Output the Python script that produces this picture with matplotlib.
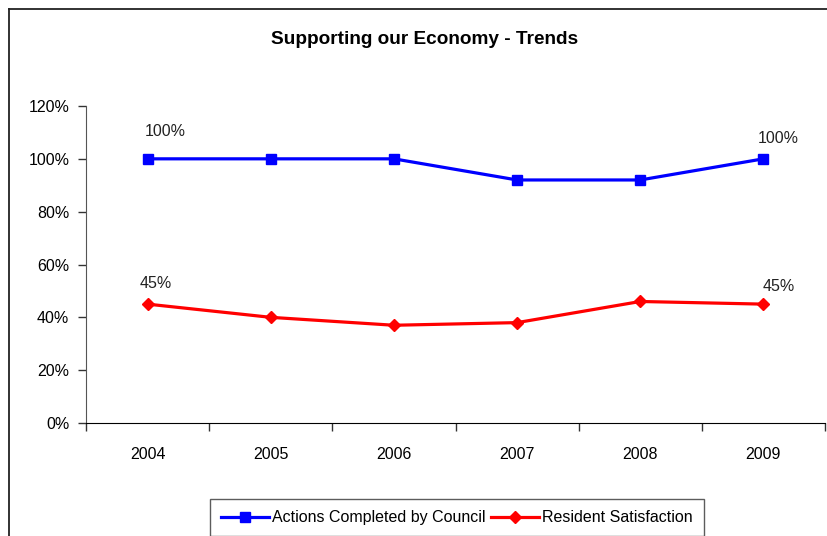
import matplotlib
matplotlib.use("Agg")
import matplotlib.pyplot as plt
from matplotlib.lines import Line2D
from matplotlib.ticker import FixedLocator, NullFormatter

plt.rcParams['font.family'] = ['Liberation Sans', 'DejaVu Sans']

years = ['2004', '2005', '2006', '2007', '2008', '2009']
actions = [100, 100, 100, 92, 92, 100]
satisfaction = [45, 40, 37, 38, 46, 45]
yticks = [0, 20, 40, 60, 80, 100, 120]
title = 'Supporting our Economy - Trends'
series_names = ['Actions Completed by Council', 'Resident Satisfaction']

FS = 11.5
W, H = 827, 536
fig = plt.figure(figsize=(W / 100, H / 100), dpi=100)
ax = fig.add_axes([86 / W, 1 - 423 / H, (825 - 86) / W, (423 - 106) / H])

x = list(range(len(years)))
ax.plot(x, actions, color='#0000FF', lw=2.3, marker='s', ms=6.5,
        label=series_names[0], solid_joinstyle='miter')
ax.plot(x, satisfaction, color='#FF0000', lw=2.3, marker='D', ms=6,
        label=series_names[1])

ax.set_xlim(-0.5, len(years) - 0.5)
ax.set_ylim(0, 120)
ax.set_yticks(yticks)
ax.set_yticklabels([f'{v}%' for v in yticks], fontsize=FS)
ax.tick_params(axis='y', direction='out', length=6, width=1, color='#333333', pad=6)

ax.xaxis.set_major_locator(FixedLocator([i - 0.5 for i in range(len(years) + 1)]))
ax.xaxis.set_major_formatter(NullFormatter())
ax.xaxis.set_minor_locator(FixedLocator(x))
ax.set_xticklabels(years, minor=True, fontsize=FS)
ax.tick_params(axis='x', which='minor', length=0, pad=17.5)
ax.tick_params(axis='x', which='major', direction='out', length=6, width=1, color='#333333')

for s in ['top', 'right']:
    ax.spines[s].set_visible(False)
ax.spines['left'].set_color('#555555')
ax.spines['bottom'].set_color('#000000')

px = 72 / 100
def lab(xi, yv, txt, dx, dy):
    ax.annotate(txt, (xi, yv), xytext=(dx * px, dy * px), textcoords='offset points',
                ha='center', va='center', fontsize=FS, color='#222222')

lab(0, actions[0], f'{actions[0]}%', 18, 27)
lab(5, actions[5], f'{actions[5]}%', 15, 20)
lab(0, satisfaction[0], f'{satisfaction[0]}%', 8, 21)
lab(5, satisfaction[5], f'{satisfaction[5]}%', 15, 18)

fig.text(425 / W, 1 - 40 / H, title, ha='center', va='center',
         fontsize=13.7, fontweight='bold')

leg = fig.legend(loc='upper left', bbox_to_anchor=(210 / W, 1 - 499 / H), ncol=2,
                 fontsize=FS, frameon=True, fancybox=False, borderpad=0.7,
                 handlelength=3.0, handletextpad=0.2, columnspacing=0.3,
                 borderaxespad=0)
leg.get_frame().set_edgecolor('#333333')
leg.get_frame().set_linewidth(1)

fig.add_artist(Line2D([9 / W, 9 / W], [0, 1 - 9 / H], transform=fig.transFigure,
                      color='#222222', lw=1.3))
fig.add_artist(Line2D([9 / W, 1], [1 - 9 / H, 1 - 9 / H], transform=fig.transFigure,
                      color='#222222', lw=1.3))

fig.savefig('out.png', dpi=100)
